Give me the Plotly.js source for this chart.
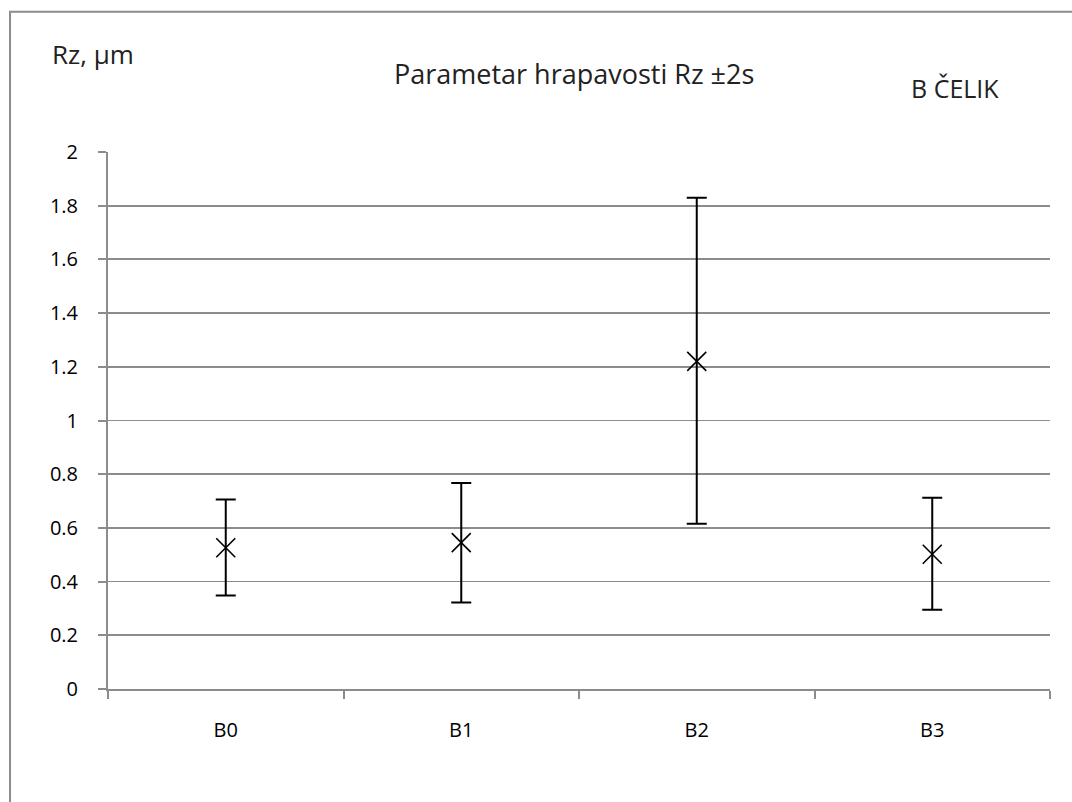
<!DOCTYPE html>
<html>
<head>
<meta charset="utf-8">
<script src="https://cdn.plot.ly/plotly-3.0.1.min.js"></script>
<style>html,body{margin:0;padding:0;background:#fff;}#chart{width:1072px;height:802px;}</style>
</head>
<body>
<div id="chart"></div>
<script>
const categories = ["B0", "B1", "B2", "B3"];
const meanRz = [0.526, 0.545, 1.220, 0.502];
const plusTwoS = [0.180, 0.222, 0.610, 0.210];
const minusTwoS = [0.178, 0.223, 0.605, 0.207];
const yTicks = [0, 0.2, 0.4, 0.6, 0.8, 1, 1.2, 1.4, 1.6, 1.8, 2];
const yTickText = ["0", "0.2", "0.4", "0.6", "0.8", "1", "1.2", "1.4", "1.6", "1.8", "2"];

const fontFam = "Open Sans, Liberation Sans, sans-serif";

const trace = {
  type: "scatter",
  mode: "markers",
  x: categories,
  y: meanRz,
  marker: {symbol: "x-thin-open", size: 19, color: "#000", line: {color: "#000", width: 1.6}},
  error_y: {type: "data", symmetric: false, array: plusTwoS, arrayminus: minusTwoS,
            color: "#000", thickness: 2, width: 10},
  showlegend: false,
  hoverinfo: "x+y"
};

const layout = {
  width: 1072, height: 802,
  margin: {l: 108, r: 22, t: 152, b: 113},
  paper_bgcolor: "#fff", plot_bgcolor: "#fff",
  font: {family: fontFam, size: 20, color: "#000"},
  xaxis: {
    type: "category",
    showgrid: false,
    showline: true, linecolor: "#8c8c8c", linewidth: 2,
    ticks: "outside", ticklen: 8, tickcolor: "#8c8c8c", tickwidth: 2,
    tickson: "boundaries",
    tickfont: {size: 20, family: fontFam, color: "#000"},
    ticklabelstandoff: 22,
    range: [-0.5, 3.5],
    zeroline: false
  },
  yaxis: {
    range: [0, 2],
    tickvals: yTicks, ticktext: yTickText,
    showgrid: true, gridcolor: "#8c8c8c", gridwidth: 1.8,
    showline: true, linecolor: "#8c8c8c", linewidth: 2,
    ticks: "outside", ticklen: 8, tickcolor: "#8c8c8c", tickwidth: 2,
    tickfont: {size: 20, family: fontFam, color: "#000"},
    ticklabelstandoff: 16,
    zeroline: false
  },
  shapes: [{
    type: "rect", xref: "paper", yref: "paper",
    x0: -0.104, x1: 1.2, y0: -0.3, y1: 1.261,
    line: {color: "#8c8c8c", width: 2}, fillcolor: "rgba(0,0,0,0)", layer: "below"
  }],
  annotations: [
    {text: "Rz, μm", xref: "paper", yref: "paper", x: -0.062, y: 1.182, xanchor: "left", yanchor: "middle",
     showarrow: false, font: {size: 26, family: fontFam, color: "#222"}},
    {text: "Parametar hrapavosti Rz ±2s", xref: "paper", yref: "paper", x: 0.4947, y: 1.146, xanchor: "center", yanchor: "middle",
     showarrow: false, font: {size: 27, family: fontFam, color: "#222"}},
    {text: "B ČELIK", xref: "paper", yref: "paper", x: 0.8995, y: 1.12, xanchor: "center", yanchor: "middle",
     showarrow: false, font: {size: 25, family: fontFam, color: "#222"}}
  ]
};

Plotly.newPlot("chart", [trace], layout, {displayModeBar: false, staticPlot: true});
</script>
</body>
</html>
